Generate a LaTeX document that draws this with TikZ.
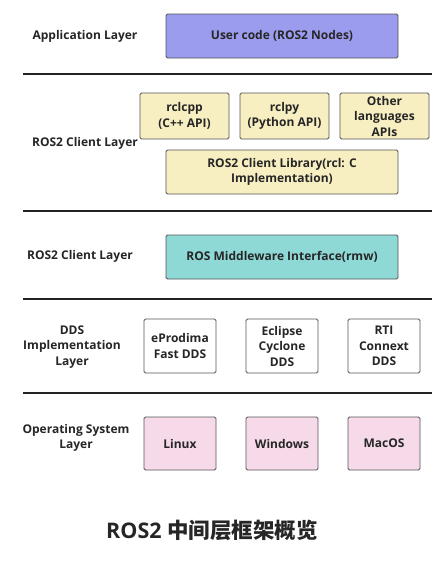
\documentclass[tikz,border=0pt]{standalone}
\usepackage{fontspec}
\setmainfont{Open Sans}
\newfontfamily\cjk{Noto Sans CJK SC}
\definecolor{appblue}{HTML}{9C9CEE}
\definecolor{clientyellow}{HTML}{F7EFC2}
\definecolor{rmwteal}{HTML}{8ED8D6}
\definecolor{ospink}{HTML}{F7DAEA}
\definecolor{boxgray}{HTML}{555555}
\definecolor{rulegray}{HTML}{222222}
\tikzset{
  layerbox/.style={draw=boxgray, line width=0.9pt, rounded corners=1.5pt,
    align=center, inner sep=1pt, font=\fontsize{12}{15.5}\selectfont\bfseries, text=black!85},
  layerlabel/.style={align=center, font=\fontsize{12}{15.5}\selectfont\bfseries, text=black!85},
  layerrule/.style={line width=2.6pt, draw=rulegray}
}
\begin{document}
\begin{tikzpicture}[x=1pt,y=-1pt]
  \useasboundingbox[fill=white] (0,0) rectangle (446,566);

  % Application layer
  \node[layerlabel] (applabel) at (85,36) {Application Layer};
  \node[layerbox, fill=appblue, minimum width=232pt, minimum height=44pt] (user) at (282,36) {User code (ROS2 Nodes)};

  % Separator 1
  \coordinate (r1a) at (23,74);
  \coordinate (r1b) at (432,74);
  \draw[layerrule] (r1a) -- (r1b);

  % Client layer
  \node[layerlabel] (clientlabel) at (85,143) {ROS2 Client Layer};
  \node[layerbox, fill=clientyellow, minimum width=89pt, minimum height=46pt] (rclcpp) at (184.5,116) {rclcpp\\(C++ API)};
  \node[layerbox, fill=clientyellow, minimum width=89pt, minimum height=46pt] (rclpy) at (284.5,116) {rclpy\\(Python API)};
  \node[layerbox, fill=clientyellow, minimum width=89pt, minimum height=46pt] (other) at (384.5,116) {Other\\languages\\APIs};
  \node[layerbox, fill=clientyellow, minimum width=232pt, minimum height=44pt] (rcl) at (282,172) {ROS2 Client Library(rcl: C\\Implementation)};

  % Separator 2
  \coordinate (r2a) at (23,211);
  \coordinate (r2b) at (432,211);
  \draw[layerrule] (r2a) -- (r2b);

  % Middleware layer
  \node[layerlabel] (rmwlabel) at (80,256) {ROS2 Client Layer};
  \node[layerbox, fill=rmwteal, minimum width=232pt, minimum height=44pt] (rmw) at (282,257) {ROS Middleware Interface(rmw)};

  % Separator 3
  \coordinate (r3a) at (23,299);
  \coordinate (r3b) at (432,299);
  \draw[layerrule] (r3a) -- (r3b);

  % DDS layer
  \node[layerlabel] (ddslabel) at (72,347) {DDS\\Implementation\\Layer};
  \node[layerbox, fill=white, minimum width=72pt, minimum height=54pt] (fastdds) at (180,346) {eProdima\\Fast DDS};
  \node[layerbox, fill=white, minimum width=72pt, minimum height=54pt] (cyclone) at (282,346) {Eclipse\\Cyclone\\DDS};
  \node[layerbox, fill=white, minimum width=72pt, minimum height=54pt] (connext) at (384,346) {RTI\\Connext\\DDS};

  % Separator 4
  \coordinate (r4a) at (23,393);
  \coordinate (r4b) at (432,393);
  \draw[layerrule] (r4a) -- (r4b);

  % Operating system layer
  \node[layerlabel] (oslabel) at (76,438) {Operating System\\Layer};
  \node[layerbox, fill=ospink, minimum width=72pt, minimum height=53pt] (linux) at (180,443.5) {Linux};
  \node[layerbox, fill=ospink, minimum width=72pt, minimum height=53pt] (windows) at (282,443.5) {Windows};
  \node[layerbox, fill=ospink, minimum width=72pt, minimum height=53pt] (macos) at (384,443.5) {MacOS};

  % Title
  \node[font=\fontsize{21.5}{24}\selectfont\bfseries, text=black!85] (title) at (212,530) {ROS2 {\cjk 中间层框架概览}};
\end{tikzpicture}
\end{document}
